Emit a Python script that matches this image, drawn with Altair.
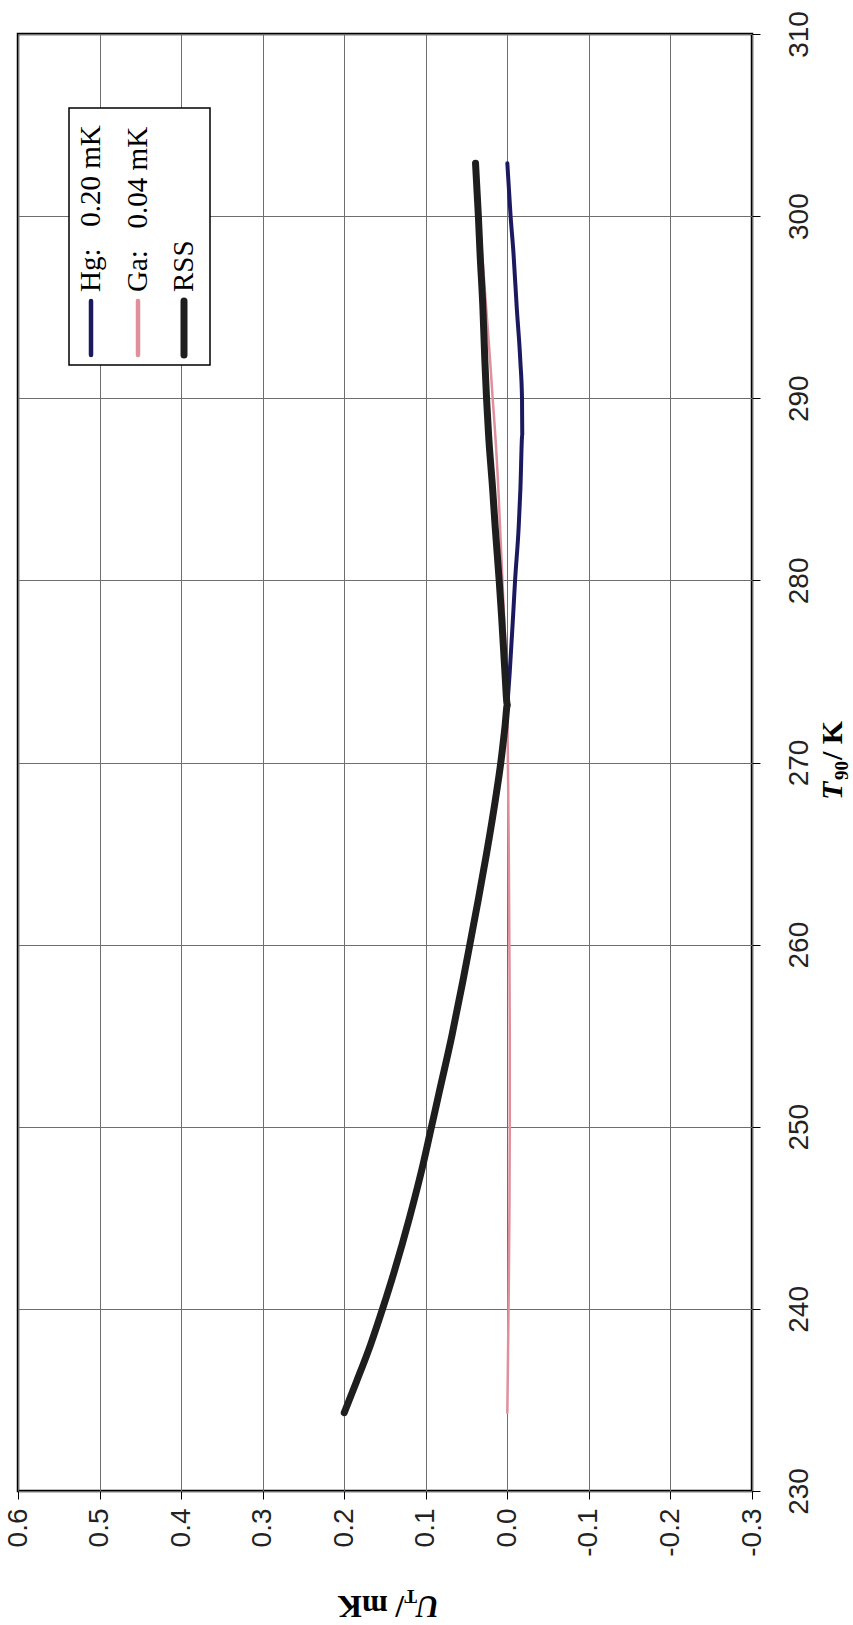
import altair as alt
import pandas as pd

# ---------------- data ----------------
T_TICKS = [230, 240, 250, 260, 270, 280, 290, 300, 310]
U_TICKS = [0.6, 0.5, 0.4, 0.3, 0.2, 0.1, 0.0, -0.1, -0.2, -0.3]

T_hg = [234.3, 236, 238, 240, 242, 245, 248, 250, 252, 255, 258, 260, 262.5, 265,
        268, 270, 272, 273.16, 275, 278, 280, 283, 285, 288, 290, 292, 295, 298, 300, 302.9]
U_hg = [0.200, 0.185, 0.168, 0.153, 0.139, 0.120, 0.103, 0.093, 0.083, 0.068, 0.0545, 0.046,
        0.0355, 0.0255, 0.0145, 0.008, 0.0028, 0.000, -0.003, -0.007, -0.0095, -0.014, -0.016,
        -0.0183, -0.018, -0.016, -0.0115, -0.0075, -0.004, 0.000]

T_ga = [234.3, 240, 245, 250, 255, 260, 265, 270, 273.16, 275, 278, 280, 283, 285, 288,
        290, 292, 295, 298, 300, 302.9]
U_ga = [0.000, -0.0015, -0.0025, -0.003, -0.003, -0.0025, -0.0018, -0.0007, 0.000, 0.001,
        0.004, 0.006, 0.009, 0.011, 0.0148, 0.018, 0.021, 0.026, 0.031, 0.034, 0.039]

T_rss = [234.3, 236, 238, 240, 242, 245, 248, 250, 252, 255, 258, 260, 262.5, 265, 268,
         270, 272, 273.16, 275, 278, 280, 283, 285, 288, 290, 292, 295, 298, 300, 302.9]
U_rss = [0.200, 0.185, 0.168, 0.153, 0.139, 0.120, 0.103, 0.093, 0.083, 0.068, 0.0545, 0.046,
         0.0355, 0.0255, 0.0145, 0.008, 0.0028, 0.000, 0.003, 0.007, 0.010, 0.015, 0.018,
         0.023, 0.0255, 0.0275, 0.030, 0.0335, 0.0355, 0.039]

SERIES = ["Hg", "Ga", "RSS"]
LEGEND_LABELS = ["Hg:\u00a0\u00a0\u00a00.20 mK", "Ga:\u00a0\u00a0\u00a00.04 mK", "RSS"]
COLORS = ["#1c1a5e", "#e0909c", "#1e1e1e"]
WIDTHS = [4, 2.5, 7]

# ---------------- layout ----------------
PW, PH = 734, 1457
PAD_L, PAD_T = 18, 34
PAD_R = 853 - PAD_L - PW
PAD_B = 1625 - PAD_T - PH

x_enc = alt.X(
    "U:Q",
    scale=alt.Scale(domain=[-0.3, 0.6], reverse=True, nice=False, zero=False),
    axis=alt.Axis(
        orient="bottom", values=U_TICKS, title=None, domain=False,
        labelExpr="datum.value < 0 ? '-' + format(-datum.value, '.1f') : format(datum.value, '.1f')",
        labelAngle=270, labelAlign="right", labelBaseline="middle",
        labelFont="Liberation Sans", labelFontSize=28, labelColor="#222",
        labelPadding=9, labelFlush=False, labelOverlap=False,
        tickSize=8, tickColor="black", tickWidth=1,
        grid=True, gridColor="#6e6e6e", gridWidth=1,
    ),
)
y_enc = alt.Y(
    "T:Q",
    scale=alt.Scale(domain=[230, 310], nice=False, zero=False),
    axis=alt.Axis(
        orient="right", values=T_TICKS, title=None, domain=False, format="d",
        labelAngle=270, labelAlign="center", labelBaseline="top",
        labelFont="Liberation Sans", labelFontSize=28, labelColor="#222",
        labelPadding=25, labelFlush=False, labelOverlap=False,
        tickSize=8, tickColor="black", tickWidth=1,
        grid=True, gridColor="#6e6e6e", gridWidth=1,
    ),
)

series_data = {
    "Hg": pd.DataFrame({"T": T_hg, "U": U_hg}),
    "Ga": pd.DataFrame({"T": T_ga, "U": U_ga}),
    "RSS": pd.DataFrame({"T": T_rss, "U": U_rss}),
}

layers = []
for name, col, w in zip(SERIES, COLORS, WIDTHS):
    layers.append(
        alt.Chart(series_data[name]).mark_line(
            color=col, strokeWidth=w, strokeCap="round", strokeJoin="round",
            interpolate="monotone"
        ).encode(x=x_enc, y=y_enc, order="T:Q")
    )

# ---------------- legend (rotated, drawn with marks) ----------------
one = pd.DataFrame({"k": [0]})
layers.append(
    alt.Chart(one).mark_rect(fill="white", stroke="black", strokeWidth=1.5).encode(
        x=alt.value(69 - PAD_L), x2=alt.value(210 - PAD_L),
        y=alt.value(108 - PAD_T), y2=alt.value(365 - PAD_T))
)
LEG_X = [91, 138, 184]
for lab, col, w, lx in zip(LEGEND_LABELS, COLORS, WIDTHS, LEG_X):
    lw = 4.5 if w < 5 else w
    layers.append(
        alt.Chart(one).mark_rule(color=col, strokeWidth=lw, strokeCap="round").encode(
            x=alt.value(lx - PAD_L), y=alt.value(301 - PAD_T), y2=alt.value(355 - PAD_T))
    )
    layers.append(
        alt.Chart(pd.DataFrame({"label": [lab]})).mark_text(
            angle=270, align="left", baseline="middle", font="Liberation Serif",
            fontSize=29, color="black"
        ).encode(x=alt.value(lx - PAD_L), y=alt.value(292 - PAD_T), text="label:N")
    )

# ---------------- axis titles (mixed styles, drawn as text) ----------------
def txt(s, x, y, angle, size, italic=False):
    return alt.Chart(pd.DataFrame({"label": [s]})).mark_text(
        angle=angle, align="left", baseline="alphabetic", font="Liberation Serif",
        fontSize=size, fontWeight="bold", fontStyle="italic" if italic else "normal",
        color="black"
    ).encode(x=alt.value(x - PAD_L), y=alt.value(y - PAD_T), text="label:N")

# right title  T90 / K  (reads bottom to top)
layers.append(txt("T", 842, 800, 270, 30, italic=True))
layers.append(txt("90", 848, 780, 270, 19))
layers.append(txt("/\u00a0K", 842, 760, 270, 30))

# bottom title  U_T / mK  (upside down)
layers.append(txt("U", 439, 1596, 180, 31, italic=True))
layers.append(txt("T", 417, 1590, 180, 19))
layers.append(txt("\u00a0/\u00a0mK", 404, 1596, 180, 31))

chart = alt.layer(*layers).properties(
    width=PW, height=PH,
    padding={"left": PAD_L, "top": PAD_T, "right": PAD_R, "bottom": PAD_B},
    autosize=alt.AutoSizeParams(type="none"),
    background="white",
).configure_view(stroke="black", strokeWidth=2.5)

chart.save("out.html", embed_options={"renderer": "svg", "actions": False})
